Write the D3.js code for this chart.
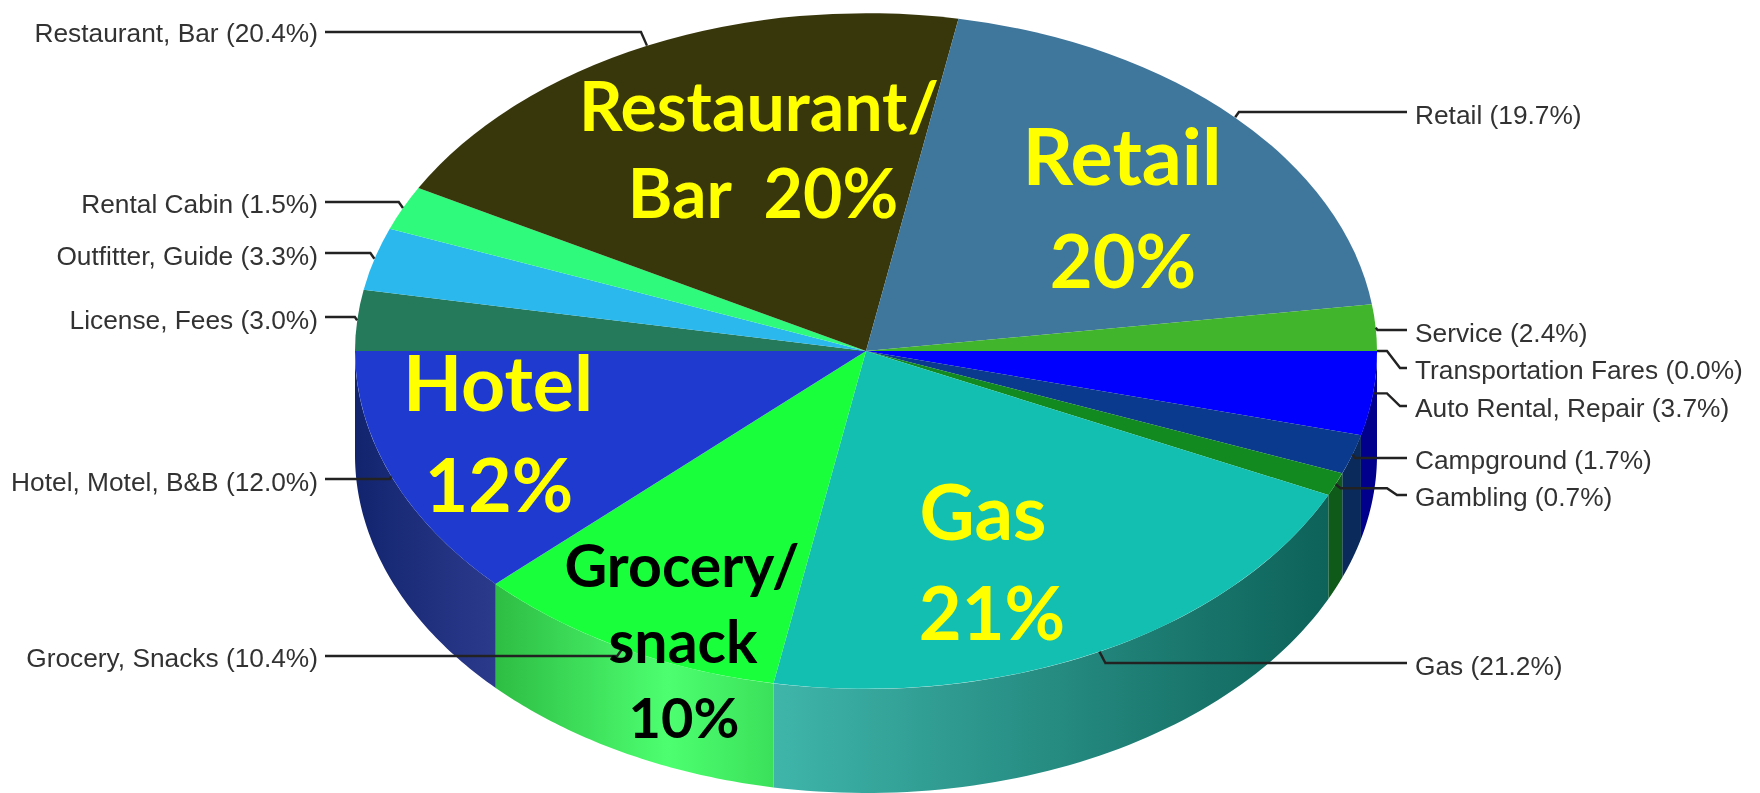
<!DOCTYPE html>
<html><head><meta charset="utf-8">
<style>html,body{margin:0;background:#fff;overflow:hidden}svg{display:block}</style>
<script src="https://cdnjs.cloudflare.com/ajax/libs/d3/7.8.5/d3.min.js"></script>
</head><body><svg id="c" width="1760" height="793"></svg>
<script>
// Data
const categories = ["Transportation Fares","Auto Rental, Repair","Campground","Gambling","Gas","Grocery, Snacks","Hotel, Motel, B&B","License, Fees","Outfitter, Guide","Rental Cabin","Restaurant, Bar","Retail","Service"];
const labelledPercent = [0.0,3.7,1.7,0.7,21.2,10.4,12.0,3.0,3.3,1.5,20.4,19.7,2.4];
const drawnShare = [0.0,4.0,1.9,1.1,20.9,10.0,12.1,2.9,3.0,2.1,19.9,19.9,2.2];
const calloutLines = [["Restaurant/","Bar  20%"],["Retail","20%"],["Hotel","12%"],["Grocery/","snack","10%"],["Gas","21%"]];

// Style and layout
const topColors = ["#0000ff","#0000ff","#0a3a8e","#128a20","#12bfb0","#1aff3c","#1f3bcf","#267a5c","#2bb8ec","#2ffa7c","#38370c","#3f769c","#41b52c"];
const wallStops = [null,["#00008c","#00008c"],["#0a2a5c","#0a2a5c"],["#0f5a18","#0f5a18"],["#3fb5aa","#0d6259"],["#2ebd44","#4dff70","#3be05a"],["#12246e","#2c3a8c"],null,null,null,null,null,null];
const labelY = [370,408,460,497,666,658,482,320,256,204,33,115,333];
const lineY  = [368,406,458,495,663,656,479,317,253,202,32,112,330];
const calloutLayout = [
  {fill:"#ffff00",size:[68,68],x:[759,763],y:[131,218]},
  {fill:"#ffff00",size:[79,74],x:[1122,1123],y:[185,288]},
  {fill:"#ffff00",size:[77,75],x:[498,499],y:[411,512]},
  {fill:"#000",size:[59,59,56],x:[682,683,684],y:[587,663,738]},
  {fill:"#ffff00",size:[76,74],x:[983,992],y:[540,640]}
];
const cx=866, cy=351, rx=511, ry=338, depth=104;
const labelRightX=318, labelLeftX=1415, leaderLeftX=325, leaderRightX=1407;

const svg=d3.select("#c");
const defs=svg.append("defs");
defs.append("filter").attr("id","soft").append("feGaussianBlur").attr("stdDeviation",0.6);

const px=d3.scaleLinear().domain([-1,1]).range([cx-rx,cx+rx]);
const py=d3.scaleLinear().domain([-1,1]).range([cy-ry,cy+ry]);
const pie=d3.pie().sort(null).value(d=>d).startAngle(Math.PI/2).endAngle(Math.PI*2.5);
const arcs=pie(drawnShare);
const unitArc=d3.arc().innerRadius(0).outerRadius(1);
const rim=a=>[px(Math.sin(a)),py(-Math.cos(a))];
const anchor=d=>rim((d.startAngle+d.endAngle)/2);

// Side walls (front half only)
const wall=svg.append("g");
arcs.forEach((d,i)=>{
  const stops=wallStops[i];
  if(!stops||d.endAngle<=d.startAngle) return;
  const n=60, angs=d3.range(n+1).map(k=>d.startAngle+(d.endAngle-d.startAngle)*k/n);
  const up=angs.map(rim), down=angs.slice().reverse().map(a=>{const p=rim(a);return [p[0],p[1]+depth];});
  const xs=up.map(p=>p[0]);
  const id="w"+i;
  const g=defs.append("linearGradient").attr("id",id).attr("gradientUnits","userSpaceOnUse")
    .attr("x1",d3.min(xs)).attr("x2",d3.max(xs)).attr("y1",0).attr("y2",0);
  const offs = stops.length===3 ? [0,0.62,1] : [0,1];
  stops.forEach((c,k)=>g.append("stop").attr("offset",offs[k]).attr("stop-color",c));
  wall.append("path").attr("d",d3.line()(up.concat(down))+"Z").attr("fill",`url(#${id})`);
});

// Top face
svg.append("g").attr("transform",`translate(${cx},${cy}) scale(${rx},${ry})`)
  .selectAll("path").data(arcs).join("path")
  .attr("d",unitArc).attr("fill",(d,i)=>topColors[i]);

// Leaders
const lead=svg.append("g").attr("fill","none").attr("stroke","#222").attr("stroke-width",2.4).attr("filter","url(#soft)");
arcs.forEach((d,i)=>{
  const [ax,ay]=anchor(d);
  const right=ax>cx, ly=lineY[i], end=right?leaderRightX:leaderLeftX;
  const dy=Math.abs(ly-ay);
  let pts;
  if(i<2){                     // upper right: run out level, then drop to the label
    pts=[[ax,ay],[1387,ay],[1400,ly],[end,ly]];
  } else if(i===3){            // gambling: tick, level run, then drop
    pts=[[ax,ay],[ax+5,ay+4],[1387,ay+4],[1397,ly],[end,ly]];
  } else {
    pts=[[ax,ay],[ax+(right?1:-1)*Math.min(dy*0.7,6),ly],[end,ly]];
  }
  lead.append("path").attr("d",d3.line()(pts));
});

// Small labels
svg.append("g").attr("font-family","'Liberation Sans',Arial,sans-serif").attr("font-size",26.3)
  .attr("fill","#333").attr("filter","url(#soft)")
  .selectAll("text").data(categories).join("text")
  .attr("x",(d,i)=>anchor(arcs[i])[0]>cx?labelLeftX:labelRightX)
  .attr("y",(d,i)=>labelY[i]).attr("dy","0.35em")
  .attr("text-anchor",(d,i)=>anchor(arcs[i])[0]>cx?"start":"end")
  .text((d,i)=>`${d} (${labelledPercent[i].toFixed(1)}%)`);

// Big callouts
const big=svg.append("g").attr("font-family","Lato,'Open Sans',sans-serif").attr("font-weight",700).attr("text-anchor","middle");
calloutLines.forEach((lines,i)=>{
  const l=calloutLayout[i];
  lines.forEach((t,k)=>big.append("text").style("white-space","pre")
    .attr("x",l.x[k]).attr("y",l.y[k]).attr("font-size",l.size[k]).attr("fill",l.fill).text(t));
});
</script></body></html>
